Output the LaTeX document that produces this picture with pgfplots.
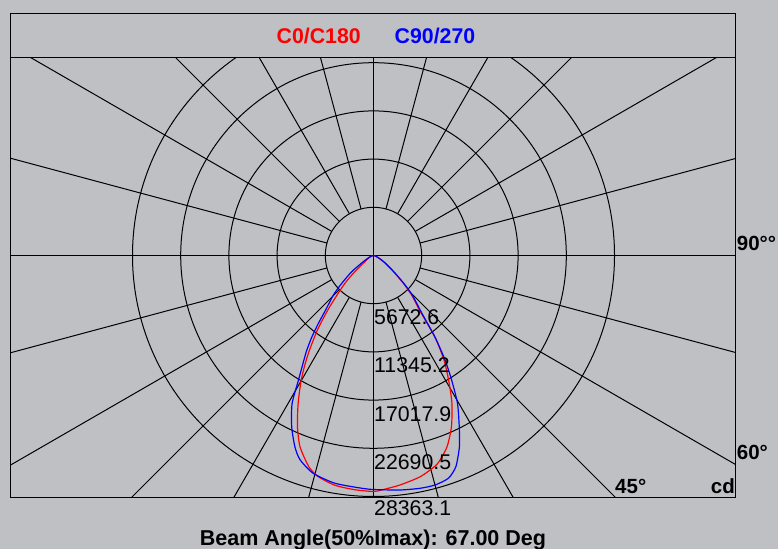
\documentclass[border=0pt]{standalone}
\usepackage{pgfplots}
\pgfplotsset{compat=1.18}
\usepackage{fontspec}
\setmainfont{Liberation Sans}
\definecolor{bg}{RGB}{191,192,196}
\begin{document}
\begin{tikzpicture}[x=1bp,y=1bp]
\fill[bg] (0,0) rectangle (778,549);
% polar grid
\begin{scope}
\clip (10.7,51.7) rectangle (735.7,491.3);
\foreach \k in {1,...,5} \draw[line width=1bp] (373.5,293.5) circle[radius=48.2bp*\k];
\draw[line width=1bp] (10.7,293.5) -- (735.7,293.5);
\draw[line width=1bp] (373.5,51.7) -- (373.5,491.3);
\foreach \a in {0,15,...,345} \draw[line width=1bp] (373.5,293.5) ++(\a:48.2bp) -- ++(\a:700bp);
\end{scope}
\draw[line width=1.3bp] (10.7,491.3) rectangle (735.7,535.3);
\begin{axis}[at={(10.7bp,51.7bp)}, anchor=south west, scale only axis,
  width=725bp, height=439.6bp,
  xmin=-42698, xmax=42627, ymin=-28457, ymax=23279,
  xtick=\empty, ytick=\empty,
  axis line style={line width=1.3bp, black}, clip=true]
% C0/C180 (angle, cd)
\addplot[red, line width=1.2bp, smooth, tension=0.4, data cs=polar] coordinates {
(-180,0) (-160,353) (-150,824) (-144,1236) (-139,2942) (-136,4590) (-133,6120)
(-130,8356) (-127,10945) (-124,13534) (-122,15300) (-120,17065) (-117,19537)
(-114,22008) (-111,24126) (-107,26010) (-104,26833) (-99.5,27422) (-94.5,27657)
(-90,27775) (-88,27610) (-83.4,27187) (-78,26598) (-73,25657) (-69,24126)
(-65.5,22126) (-62,19654) (-59,17183) (-56,14829) (-53,12004) (-50,8474)
(-46,6473) (-43,4825) (-39,3060) (-32,1412) (-25,588) (-15,177) (0,0)};
% C90/270
\addplot[blue, line width=1.2bp, smooth, tension=0.4, data cs=polar] coordinates {
(-180,0) (-160,412) (-148.7,1412) (-143.4,3178) (-138.8,4943) (-135.5,6591)
(-131.6,8356) (-129,10357) (-127,12122) (-125,13770) (-123,15300) (-121,17183)
(-118.8,19890) (-115.5,22361) (-112.3,24362) (-109.8,25539) (-105.5,26598)
(-99.6,27187) (-93,27422) (-90,27540) (-83.6,27775) (-78.7,27940) (-75,27963)
(-71.4,27657) (-68.7,26680) (-65.8,24668) (-63.4,22538) (-60.4,20007)
(-57.9,17300) (-55.6,14900) (-53,12004) (-50,8827) (-46,6708) (-43,5061)
(-39,3178) (-32,1530) (-25,647) (-15,177) (0,0)};
\end{axis}
% labels
\node[anchor=base, text=red, font={\bfseries\fontsize{21.3bp}{24bp}\selectfont}, inner sep=0] at (318.7,505.7) {C0/C180};
\node[anchor=base, text=blue, font={\bfseries\fontsize{21.3bp}{24bp}\selectfont}, inner sep=0] at (435,505.7) {C90/270};
\begin{scope}[every node/.style={anchor=base west, inner sep=0, font={\fontsize{21.3bp}{24bp}\selectfont}}]
\node at (374,224.7) {5672.6};
\node at (374,176.3) {11345.2};
\node at (374,127.3) {17017.9};
\node at (374,79.7) {22690.5};
\node at (374,33) {28363.1};
\end{scope}
\begin{scope}[every node/.style={inner sep=0, font={\bfseries\fontsize{20.5bp}{24bp}\selectfont}}]
\node[anchor=base west] at (736.7,298) {90°°};
\node[anchor=base west] at (736.7,89) {60°};
\node[anchor=base west] at (615,55.7) {45°};
\node[anchor=base east] at (735,55.7) {cd};
\end{scope}
\node[anchor=base, inner sep=0, font={\bfseries\fontsize{21.5bp}{24bp}\selectfont}] at (373,3.3) {Beam Angle(50\%Imax): 67.00 Deg};
\pgfresetboundingbox
\path[use as bounding box] (0,0) rectangle (778,549);
\end{tikzpicture}
\end{document}
